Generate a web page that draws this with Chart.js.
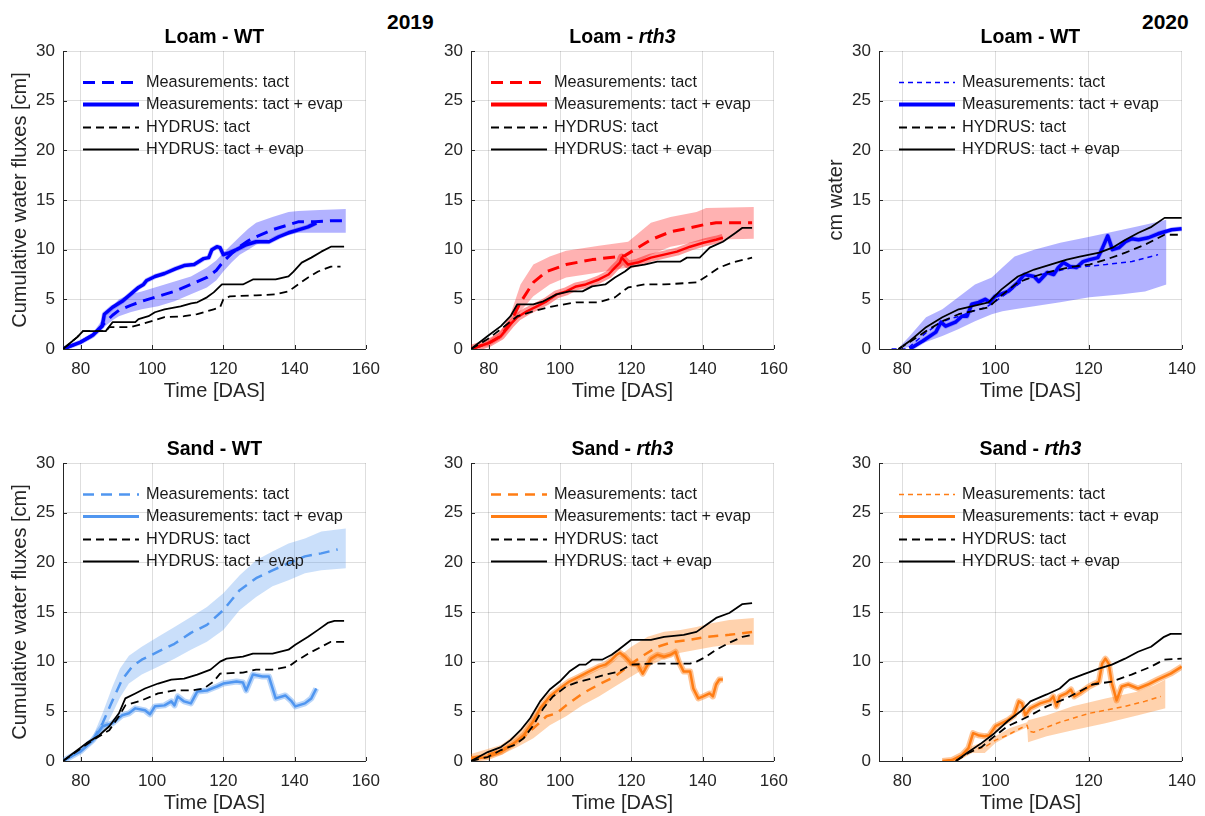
<!DOCTYPE html>
<html>
<head>
<meta charset="utf-8">
<title>Cumulative water fluxes</title>
<script src="https://cdn.jsdelivr.net/npm/chart.js@4.4.1/dist/chart.umd.min.js"></script>
<style>
  body { margin: 0; background: #fff; width: 1205px; height: 816px; overflow: hidden; position: relative;
         font-family: "Liberation Sans", Arial, Helvetica, sans-serif; }
  canvas { position: absolute; }
  .year { position: absolute; font-weight: bold; font-size: 21px; color: #000; line-height: 24px; }
</style>
</head>
<body>
<div class="year" style="left:387px; top:10px;">2019</div>
<div class="year" style="left:1142px; top:10px;">2020</div>
<canvas id="loamWT19" width="389" height="404" style="left:1px; top:0px;"></canvas>
<canvas id="loamRth19" width="389" height="404" style="left:409px; top:0px;"></canvas>
<canvas id="loamWT20" width="389" height="404" style="left:817px; top:0px;"></canvas>
<canvas id="sandWT19" width="389" height="404" style="left:1px; top:412px;"></canvas>
<canvas id="sandRth19" width="389" height="404" style="left:409px; top:412px;"></canvas>
<canvas id="sandRth20" width="389" height="404" style="left:817px; top:412px;"></canvas>
<script>
// ticks
const xTicks2019 = [80, 100, 120, 140, 160];
const xTicks2020 = [80, 100, 120, 140];
const yTicks = [0, 5, 10, 15, 20, 25, 30];

// all series are [day, cm] ; bands are [day, lower, upper]

// Loam - WT, 2019
const loamWT19_measTact = [[75,0],[80,0.7],[83.4,1.4],[86.1,2.4],[88.9,3.4],[90.7,3.9],[94,4.4],[97.1,4.8],[101.7,5.3],[106.3,5.8],[110.9,6.5],[115.4,7.2],[118,7.9],[120,8.8],[122.3,9.6],[124.6,10.3],[127,10.9],[129.2,11.3],[133.8,12.0],[138.3,12.5],[141,12.8],[145.7,12.8],[150,12.9],[154,12.9]];
const loamWT19_band = [[75,0,0],[80,0.5,0.9],[83.4,1.1,1.6],[86.1,2.1,3.0],[88.9,2.9,4.3],[90.7,3.3,5.0],[93.9,3.7,5.5],[97.1,4.0,5.8],[101.7,4.3,6.3],[106.3,4.8,6.8],[110.9,5.5,7.3],[115.4,6.2,8.2],[118,6.9,8.9],[120,7.8,9.7],[122.3,8.7,10.5],[124.6,9.5,11.3],[127,10.0,12.1],[129.2,10.5,12.7],[133.8,11.2,13.3],[138.3,11.5,13.8],[141,11.7,13.9],[147,11.7,14.0],[154.4,11.7,14.1]];
const loamWT19_measEvap = [[75,0],[80,0.7],[83.4,1.4],[86,2.3],[86.6,3.5],[88.9,4.2],[91.6,4.8],[93.9,5.5],[96.2,6.2],[97.6,6.5],[98.5,6.9],[100.8,7.3],[103.5,7.6],[106.7,8.1],[109,8.4],[111.8,8.5],[114.5,9.1],[115.9,9.2],[116.8,10.0],[118.2,10.3],[119.1,10.2],[120,9.5],[121.8,9.7],[123.7,10.0],[126.4,10.5],[129.2,10.8],[132.8,10.8],[135.6,11.3],[138.3,11.7],[141,12.0],[143.8,12.3],[146.1,12.7]];
const loamWT19_hydrusTact = [[75,0],[77,0.6],[79,1.2],[80.6,1.8],[87,1.8],[88,2.2],[93.9,2.2],[97,2.5],[99.9,2.8],[103.5,3.2],[109,3.3],[112.7,3.5],[117.3,4.0],[119.1,4.2],[120,5.0],[121.8,5.3],[129.2,5.4],[134.7,5.5],[138.3,5.8],[140.2,6.3],[143.8,7.2],[146.6,7.8],[150.2,8.3],[152.9,8.3]];
const loamWT19_hydrusEvap = [[75,0],[77,0.6],[79,1.2],[80.6,1.8],[87,1.8],[88.9,2.7],[95.3,2.7],[96.2,3.0],[99,3.3],[100.8,3.7],[103.5,4.0],[108,4.3],[111,4.6],[112.7,4.7],[115.4,5.2],[117.3,5.7],[119.6,6.5],[125.5,6.5],[128.3,7.0],[134.7,7.0],[138.3,7.3],[139.7,7.8],[142,8.7],[144.7,9.2],[147.5,9.8],[150.2,10.3],[153.9,10.3]];

// Loam - rth3, 2019
const loamRth19_measTact = [[75,0],[80,0.6],[83.4,1.3],[86.1,2.7],[88.9,4.7],[92.5,6.7],[96.2,7.8],[101.7,8.5],[109,9.0],[116.4,9.3],[118.2,9.4],[120.9,10.0],[125.5,11.0],[131,11.8],[136.5,12.2],[140.2,12.5],[143.8,12.7],[153.9,12.7]];
const loamRth19_band = [[75,0,0],[80,0.3,0.9],[83.4,1.0,1.8],[86.1,2.2,3.5],[88.9,3.8,6.5],[92.5,5.3,8.5],[97.1,6.5,9.3],[101.7,7.2,9.9],[110.9,7.7,10.4],[119.1,8.2,10.8],[121.8,8.7,11.6],[125.5,9.5,12.7],[131,10.3,13.3],[138.3,10.8,13.8],[141,11.0,14.2],[154.4,11.1,14.3]];
const loamRth19_measEvap = [[75,0],[80,0.6],[83.4,1.3],[86.1,2.5],[88,3.2],[90.7,3.8],[93.5,4.3],[96.2,4.8],[99,5.5],[101.7,5.8],[104.5,6.3],[107.2,6.5],[110.9,7.0],[113.6,7.5],[115.4,8.2],[116.8,8.7],[117.3,9.2],[119.1,8.5],[121.8,8.7],[125.5,9.2],[129.2,9.5],[132.8,9.8],[136.5,10.3],[140.2,10.7],[143.8,11.0],[145.7,11.2]];
const loamRth19_hydrusTact = [[75,0],[79.7,1.0],[83.4,2.0],[88,3.3],[92.5,3.8],[98,4.3],[104.5,4.7],[110.9,4.7],[115.4,5.2],[119.1,6.2],[123.7,6.5],[129.2,6.5],[138.3,6.7],[141,7.3],[144.7,8.2],[148.4,8.7],[153.9,9.2]];
const loamRth19_hydrusEvap = [[75,0],[79.7,1.3],[83.4,2.3],[86.1,3.3],[88,4.5],[92.5,4.5],[95.3,4.8],[99,5.5],[102.6,5.8],[106.3,5.8],[109,6.3],[112.7,6.5],[115.4,7.2],[118.2,7.8],[120,8.3],[123.7,8.5],[127.3,8.8],[133.8,8.8],[135.6,9.2],[139.2,9.2],[142,10.2],[145.7,10.8],[149.3,11.7],[151.2,12.2],[153.9,12.2]];

// Loam - WT, 2020
const loamWT20_measTact = [[77.7,0],[81,0],[83,0.8],[85,1.6],[88,2.6],[90,3.0],[93,3.4],[95,3.8],[98,4.2],[100,4.8],[103,5.8],[106.2,7.0],[109.7,7.5],[116.7,8.2],[123.7,8.5],[129.3,8.8],[134.9,9.5]];
const loamWT20_band = [[79,0,0],[81.6,0.2,1.3],[85.1,0.7,3.2],[88.6,1.3,4.0],[92,2.0,5.2],[95.6,2.8,6.5],[99.2,3.5,7.2],[101.5,3.8,8.2],[104.1,4.0,9.3],[108.3,4.3,10.0],[113.9,4.7,10.7],[120.2,5.2,11.3],[127.2,5.5,12.0],[132.1,5.8,12.5],[136.7,6.5,13.0]];
const loamWT20_measEvap = [[81.6,0],[84.4,0.8],[87.2,1.7],[88.3,2.7],[89.3,2.3],[91.4,2.7],[92.8,3.3],[93.9,3.3],[94.9,4.5],[96.4,4.7],[97.8,5.0],[98.8,4.7],[99.9,5.3],[102.7,5.8],[104.8,6.7],[106.2,7.5],[108.3,7.3],[109.3,6.8],[111.1,7.7],[112.5,7.5],[113.5,8.2],[114.6,8.7],[116,8.3],[117.4,8.2],[118.8,8.8],[120.2,9.0],[122,9.2],[123,10.2],[124.1,11.4],[125.1,10.0],[126.5,10.2],[127.9,10.8],[129.3,11.1],[130.7,11.0],[132.8,11.2],[134.9,11.6],[137.8,12.0],[140,12.1]];
const loamWT20_hydrusTact = [[79.2,0],[81.6,0.7],[85.1,1.8],[88.6,2.8],[92.1,3.5],[94.9,3.8],[98.5,4.2],[101.3,5.4],[104.8,6.7],[108.3,7.3],[111.8,7.8],[116.7,8.3],[120.2,8.5],[123.7,9.0],[127.9,9.7],[132.1,10.5],[136.3,11.5],[140,11.5]];
const loamWT20_hydrusEvap = [[79.2,0],[81.6,0.8],[85.1,2.2],[88.6,3.2],[92.1,4.0],[94.9,4.3],[98.5,4.7],[101.3,6.0],[104.8,7.3],[108.3,8.0],[111.8,8.5],[115.3,9.0],[118.1,9.3],[122.3,9.7],[125.1,10.2],[127.9,11.0],[130.7,11.7],[133.5,12.3],[136.3,13.2],[140,13.2]];

// Sand - WT, 2019
const sandWT19_measTact = [[75,0],[80,1.0],[83.4,2.1],[86.1,3.8],[88.9,6.1],[91.6,8.2],[94.4,9.5],[97.1,10.2],[101.7,11.0],[106.3,11.8],[110.9,12.9],[115.4,13.7],[120,15.2],[124.6,17.2],[129.2,18.4],[133.8,19.2],[138.3,19.9],[142.9,20.6],[147.5,20.9],[152.1,21.3]];
const sandWT19_band = [[75,0,0],[80,0.8,1.3],[83.4,1.8,2.5],[86.1,2.8,4.8],[88.9,4.8,7.5],[91,6.4,9.3],[93.5,7.8,10.6],[97.1,8.7,11.5],[101.7,9.5,12.5],[106.3,10.3,13.5],[110.9,11.2,14.5],[115.4,12.0,15.5],[120,13.2,16.9],[124.6,15.2,18.7],[129.2,16.5,20.2],[133.8,17.6,21.1],[138.3,18.2,21.9],[142.9,18.9,22.4],[147.5,19.2,23.1],[154.4,19.4,23.4]];
const sandWT19_measEvap = [[75,0],[80,1.0],[83.4,2.1],[86.1,3.5],[88.9,3.8],[91.6,4.6],[93.5,4.8],[95.3,5.3],[98,5.1],[99.4,4.7],[100.8,5.5],[103.5,5.6],[105.4,6.0],[106.3,5.6],[107.2,6.5],[109,6.0],[110.9,5.8],[112.7,7.0],[115.4,7.1],[118.2,7.5],[120,7.8],[123.7,8.0],[125.5,7.9],[126.4,7.1],[128.3,8.7],[131,8.5],[132.8,8.5],[134.7,6.3],[137.4,6.6],[139.2,6.0],[140.2,5.5],[142.9,5.8],[144.7,6.3],[146.1,7.3]];
const sandWT19_hydrusTact = [[75,0],[83.4,2.1],[88,3.1],[90.7,4.5],[92.5,5.6],[97.1,6.1],[101.7,6.8],[106.3,7.1],[110.9,7.1],[114.5,7.3],[117.3,8.0],[119.1,8.8],[125.5,8.9],[129.2,9.2],[133.8,9.2],[138.3,9.5],[140.2,10.0],[143.8,10.8],[147.5,11.5],[150.2,12.0],[153.9,12.0]];
const sandWT19_hydrusEvap = [[75,0],[81.6,1.8],[85.2,2.6],[88,3.5],[90.7,4.8],[92.5,6.3],[95.3,6.8],[98,7.3],[101.7,7.8],[105.4,8.2],[109,8.3],[112.7,8.7],[116.4,9.2],[119.1,10.0],[120.9,10.3],[125.5,10.5],[128.3,10.8],[133.8,10.8],[138.3,11.2],[140.2,11.7],[143.8,12.5],[146.6,13.2],[149.3,13.9],[151.2,14.1],[153.9,14.1]];

// Sand - rth3, 2019
const sandRth19_measTact = [[75,0.3],[79.7,0.6],[83.4,1.1],[88,1.9],[92.5,3.3],[96.2,4.5],[99,4.8],[101.7,5.6],[106.3,6.8],[110.9,7.7],[115.4,8.5],[120,9.8],[123.7,10.7],[127.3,11.5],[131.9,12.0],[136.5,12.2],[141,12.5],[147.5,12.7],[154.4,13.0]];
const sandRth19_band = [[75,0,0.7],[83.4,0.6,1.6],[88,1.4,2.8],[92.5,2.3,4.6],[97.1,3.6,6.3],[101.7,4.5,7.5],[106.3,5.6,8.5],[110.9,6.5,9.2],[115.4,7.5,10.2],[120,8.5,11.5],[124.6,9.5,12.5],[129.2,10.3,13.0],[133.8,10.9,13.2],[138.3,11.2,13.5],[142.9,11.5,13.9],[147.5,11.7,14.2],[154.4,11.7,14.4]];
const sandRth19_measEvap = [[75,0.2],[79.7,0.4],[83.4,0.9],[87.1,1.8],[89.8,2.6],[92.5,4.0],[94.4,5.3],[97.1,6.5],[99.9,7.3],[102.6,8.0],[105.4,8.5],[108.1,9.0],[110.9,9.5],[112.7,9.7],[114.5,10.2],[115.9,10.7],[116.8,10.9],[118.2,10.5],[120,9.8],[121.8,9.7],[123.2,8.8],[124.6,9.7],[125.5,10.3],[127.3,10.7],[129.2,10.5],[131,10.7],[132.4,11.0],[133.3,10.0],[134.7,9.0],[136.5,9.0],[137.4,7.3],[138.8,6.3],[140.2,6.5],[142,6.8],[142.9,6.5],[143.8,7.7],[144.7,8.2],[145.7,8.2]];
const sandRth19_hydrusTact = [[75,0],[79.7,0.4],[83.4,1.1],[87.1,1.6],[89.8,2.3],[92.5,3.6],[95.3,5.3],[98,6.5],[101.7,7.5],[105.4,8.0],[109,8.3],[112.7,8.7],[116.4,9.0],[120,9.7],[125.5,9.8],[136.5,9.8],[138.3,10.0],[141,10.5],[143.8,11.2],[147.5,11.9],[151.2,12.5],[153.9,12.7]];
const sandRth19_hydrusEvap = [[75,0],[79.7,0.9],[83.4,1.4],[86.1,2.1],[88.9,3.1],[91.6,4.3],[94.4,6.0],[97.1,7.2],[99.9,8.0],[102.6,9.0],[105.4,9.7],[107.2,9.7],[109,10.2],[111.8,10.2],[114.5,10.7],[116.4,11.2],[118.2,11.7],[120,12.2],[125.5,12.2],[129.2,12.5],[134.7,12.7],[138.3,13.0],[141,13.7],[143.8,14.4],[147.5,14.9],[151.2,15.8],[153.9,15.9]];

// Sand - rth3, 2020
const sandRth20_measTact = [[89,0],[91.4,0.2],[94,0.8],[96,1.2],[97.7,1.4],[100,2.1],[102.6,2.6],[105.4,3.3],[106.8,3.6],[107.1,3.0],[108.2,2.9],[111,3.4],[113.8,3.9],[116.6,4.3],[120.1,4.8],[123.6,5.1],[127.8,5.5],[132,6.0],[135.5,6.5]];
const sandRth20_band = [[89,0,0],[92,0,0.4],[95,0.8,1.5],[97.7,0.8,2.0],[100,1.8,2.5],[103,2.6,3.3],[106.8,3.4,3.9],[107,1.9,4.1],[111,2.5,4.6],[116.6,3.1,5.5],[123.6,3.8,6.3],[130.6,4.6,7.0],[134,5.0,7.6],[136.5,5.3,8.2]];
const sandRth20_measEvap = [[88.6,0],[90.7,0.1],[92.8,0.6],[94.2,1.3],[95.2,2.8],[96.3,2.6],[97.7,2.5],[98.7,2.6],[100,3.5],[102.6,4.1],[104,4.6],[105,6.0],[105.7,5.8],[106.4,4.6],[107.5,5.3],[109.6,5.8],[111.7,6.1],[112.4,6.5],[113.1,5.5],[113.8,6.5],[115.2,6.8],[116.2,7.2],[116.9,6.5],[118,6.8],[120.1,7.5],[122.2,8.0],[122.9,9.8],[123.6,10.3],[124.3,9.8],[125,7.8],[126,6.1],[127.1,7.5],[128.5,7.7],[130.6,7.3],[132.7,7.7],[134.8,8.2],[137.6,8.8],[140,9.5]];
const sandRth20_hydrusTact = [[91.5,0],[94.2,0.8],[97,1.4],[99.8,2.5],[102.6,3.5],[105.4,4.1],[107.5,4.6],[111,5.5],[115.2,6.3],[118,7.0],[120.8,7.7],[125,8.0],[129.2,8.7],[133.4,9.5],[136.2,10.2],[140,10.3]];
const sandRth20_hydrusEvap = [[91.5,0],[94.2,0.9],[97,1.8],[99.8,2.8],[102.6,4.0],[105.4,5.0],[107.5,6.0],[111,6.7],[113.8,7.3],[115.9,8.2],[118.7,8.7],[122.2,9.3],[125,9.7],[127.8,10.3],[130.6,11.0],[133.4,11.5],[136.2,12.5],[137.6,12.8],[140,12.8]];

const FONT = '"Liberation Sans", Arial, Helvetica, sans-serif';
const INK = '#262626';

function pts(arr, k = 1) {
  return arr.map(p => ({ x: p[0], y: p[k] }));
}

// draws inward ticks, the subplot title and the legend box inside the axes
const panelDecor = {
  id: 'panelDecor',
  afterDraw(chart) {
    const { ctx, chartArea: a, scales } = chart;
    const o = chart.options.plugins.panelDecor;
    ctx.save();

    ctx.strokeStyle = INK;
    ctx.lineWidth = 1;
    ctx.setLineDash([]);
    ctx.beginPath();
    scales.x.ticks.forEach(t => {
      const px = Math.round(scales.x.getPixelForValue(t.value)) + 0.5;
      ctx.moveTo(px, a.bottom);
      ctx.lineTo(px, a.bottom - 4);
    });
    scales.y.ticks.forEach(t => {
      const py = Math.round(scales.y.getPixelForValue(t.value)) + 0.5;
      ctx.moveTo(a.left, py);
      ctx.lineTo(a.left + 4, py);
    });
    ctx.stroke();

    // title, second part may be italic (gene name)
    const fNorm = 'bold 19.5px ' + FONT;
    const fItal = 'italic bold 19.5px ' + FONT;
    ctx.fillStyle = '#000';
    ctx.textBaseline = 'middle';
    ctx.font = fNorm;
    const w1 = ctx.measureText(o.title).width;
    ctx.font = fItal;
    const w2 = o.titleItalic ? ctx.measureText(o.titleItalic).width : 0;
    let tx = (a.left + a.right) / 2 - (w1 + w2) / 2;
    const ty = a.top - 13;
    ctx.textAlign = 'left';
    ctx.font = fNorm;
    ctx.fillText(o.title, tx, ty);
    if (o.titleItalic) {
      ctx.font = fItal;
      ctx.fillText(o.titleItalic, tx + w1, ty);
    }

    // legend
    const rows = [30.5, 53, 75.5, 98];
    const items = chart.data.datasets.filter(d => d.legendLabel).sort((p, q) => p.legendPos - q.legendPos);
    ctx.font = '16.3px ' + FONT;
    items.forEach((d, i) => {
      const y = Math.round(a.top + rows[i]) + 0.5;
      ctx.beginPath();
      ctx.strokeStyle = d.borderColor;
      ctx.lineWidth = d.legendWidth || d.borderWidth;
      ctx.setLineDash(d.borderDash || []);
      ctx.moveTo(a.left + 20, y);
      ctx.lineTo(a.left + 76, y);
      ctx.stroke();
      ctx.fillStyle = '#1a1a1a';
      ctx.fillText(d.legendLabel, a.left + 83, y);
    });
    ctx.restore();
  }
};

function makePanel(id, p) {
  const xTicks = p.xMax === 160 ? xTicks2019 : xTicks2020;
  const datasets = [
    { data: pts(p.band, 1), borderColor: 'transparent', borderWidth: 0, fill: false, order: 30 },
    { data: pts(p.band, 2), borderColor: 'transparent', borderWidth: 0, fill: '-1', backgroundColor: p.bandColor, order: 29 },
    { data: pts(p.measEvap), borderColor: p.haloColor, borderWidth: p.haloWidth, order: 20 },
    { legendLabel: 'Measurements: tact + evap', legendPos: 1, data: pts(p.measEvap), borderColor: p.color, borderWidth: p.evapWidth, legendWidth: p.evapLegendWidth, order: 4 },
    { legendLabel: 'Measurements: tact', legendPos: 0, data: pts(p.measTact), borderColor: p.color, borderWidth: p.tactWidth, borderDash: p.tactDash, order: 3 },
    { legendLabel: 'HYDRUS: tact', legendPos: 2, data: pts(p.hydrusTact), borderColor: '#000', borderWidth: 1.8, borderDash: [8, 5], order: 2 },
    { legendLabel: 'HYDRUS: tact + evap', legendPos: 3, data: pts(p.hydrusEvap), borderColor: '#000', borderWidth: 1.8, order: 1 }
  ];
  return new Chart(document.getElementById(id), {
    type: 'line',
    data: { datasets },
    plugins: [panelDecor],
    options: {
      responsive: false,
      animation: false,
      events: [],
      layout: { padding: { top: 51, right: 18, left: 0, bottom: 0 } },
      elements: {
        point: { radius: 0 },
        line: { tension: 0, borderJoinStyle: 'round', borderCapStyle: 'butt' }
      },
      plugins: {
        legend: { display: false },
        tooltip: { enabled: false },
        panelDecor: { title: p.title, titleItalic: p.titleItalic }
      },
      scales: {
        x: {
          type: 'linear',
          min: 75,
          max: p.xMax,
          afterBuildTicks: s => { s.ticks = xTicks.map(v => ({ value: v })); },
          afterFit: s => { s.height = 55; },
          ticks: { color: INK, font: { family: FONT, size: 17 }, padding: 10, maxRotation: 0, autoSkip: false },
          grid: { color: 'rgba(0,0,0,0.13)', drawTicks: false },
          border: { color: INK, width: 1 },
          title: { display: true, text: 'Time [DAS]', color: INK, font: { family: FONT, size: 20 }, padding: { top: 0, bottom: 1 } }
        },
        y: {
          type: 'linear',
          min: 0,
          max: 30,
          afterBuildTicks: s => { s.ticks = yTicks.map(v => ({ value: v })); },
          afterFit: s => { s.width = 62; },
          ticks: { color: INK, font: { family: FONT, size: 17 }, padding: 8 },
          grid: { color: 'rgba(0,0,0,0.13)', drawTicks: false },
          border: { color: INK, width: 1 },
          title: { display: !!p.yTitle, text: p.yTitle || '', color: INK, font: { family: FONT, size: 20 }, padding: { top: 7, bottom: 0 } }
        }
      }
    }
  });
}

const BLUE = 'rgb(0,0,255)';
const RED = 'rgb(255,0,0)';
const LIGHTBLUE = 'rgb(80,150,240)';
const ORANGE = 'rgb(255,125,20)';

makePanel('loamWT19', {
  title: 'Loam - WT', yTitle: 'Cumulative water fluxes [cm]', xMax: 160,
  color: BLUE, bandColor: 'rgba(0,0,255,0.3)', haloColor: 'rgba(0,0,255,0.25)', haloWidth: 5,
  tactWidth: 3, tactDash: [12, 7], evapWidth: 3.5, evapLegendWidth: 4,
  band: loamWT19_band, measTact: loamWT19_measTact, measEvap: loamWT19_measEvap,
  hydrusTact: loamWT19_hydrusTact, hydrusEvap: loamWT19_hydrusEvap
});

makePanel('loamRth19', {
  title: 'Loam - ', titleItalic: 'rth3', xMax: 160,
  color: RED, bandColor: 'rgba(255,0,0,0.3)', haloColor: 'rgba(255,0,0,0.4)', haloWidth: 8,
  tactWidth: 3, tactDash: [12, 7], evapWidth: 2.5, evapLegendWidth: 4,
  band: loamRth19_band, measTact: loamRth19_measTact, measEvap: loamRth19_measEvap,
  hydrusTact: loamRth19_hydrusTact, hydrusEvap: loamRth19_hydrusEvap
});

makePanel('loamWT20', {
  title: 'Loam - WT', yTitle: 'cm water', xMax: 140,
  color: BLUE, bandColor: 'rgba(0,0,255,0.3)', haloColor: 'rgba(0,0,255,0.25)', haloWidth: 5,
  tactWidth: 1.5, tactDash: [5, 4], evapWidth: 3.5, evapLegendWidth: 4,
  band: loamWT20_band, measTact: loamWT20_measTact, measEvap: loamWT20_measEvap,
  hydrusTact: loamWT20_hydrusTact, hydrusEvap: loamWT20_hydrusEvap
});

makePanel('sandWT19', {
  title: 'Sand - WT', yTitle: 'Cumulative water fluxes [cm]', xMax: 160,
  color: LIGHTBLUE, bandColor: 'rgba(80,150,240,0.3)', haloColor: 'rgba(80,150,240,0.4)', haloWidth: 6,
  tactWidth: 2.5, tactDash: [11, 7], evapWidth: 2.5, evapLegendWidth: 3,
  band: sandWT19_band, measTact: sandWT19_measTact, measEvap: sandWT19_measEvap,
  hydrusTact: sandWT19_hydrusTact, hydrusEvap: sandWT19_hydrusEvap
});

makePanel('sandRth19', {
  title: 'Sand - ', titleItalic: 'rth3', xMax: 160,
  color: ORANGE, bandColor: 'rgba(255,125,20,0.35)', haloColor: 'rgba(255,125,20,0.45)', haloWidth: 6,
  tactWidth: 2.5, tactDash: [10, 7], evapWidth: 2.5, evapLegendWidth: 3,
  band: sandRth19_band, measTact: sandRth19_measTact, measEvap: sandRth19_measEvap,
  hydrusTact: sandRth19_hydrusTact, hydrusEvap: sandRth19_hydrusEvap
});

makePanel('sandRth20', {
  title: 'Sand - ', titleItalic: 'rth3', xMax: 140,
  color: ORANGE, bandColor: 'rgba(255,125,20,0.35)', haloColor: 'rgba(255,125,20,0.45)', haloWidth: 6,
  tactWidth: 1.5, tactDash: [5, 4], evapWidth: 2.5, evapLegendWidth: 3,
  band: sandRth20_band, measTact: sandRth20_measTact, measEvap: sandRth20_measEvap,
  hydrusTact: sandRth20_hydrusTact, hydrusEvap: sandRth20_hydrusEvap
});
</script>
</body>
</html>
